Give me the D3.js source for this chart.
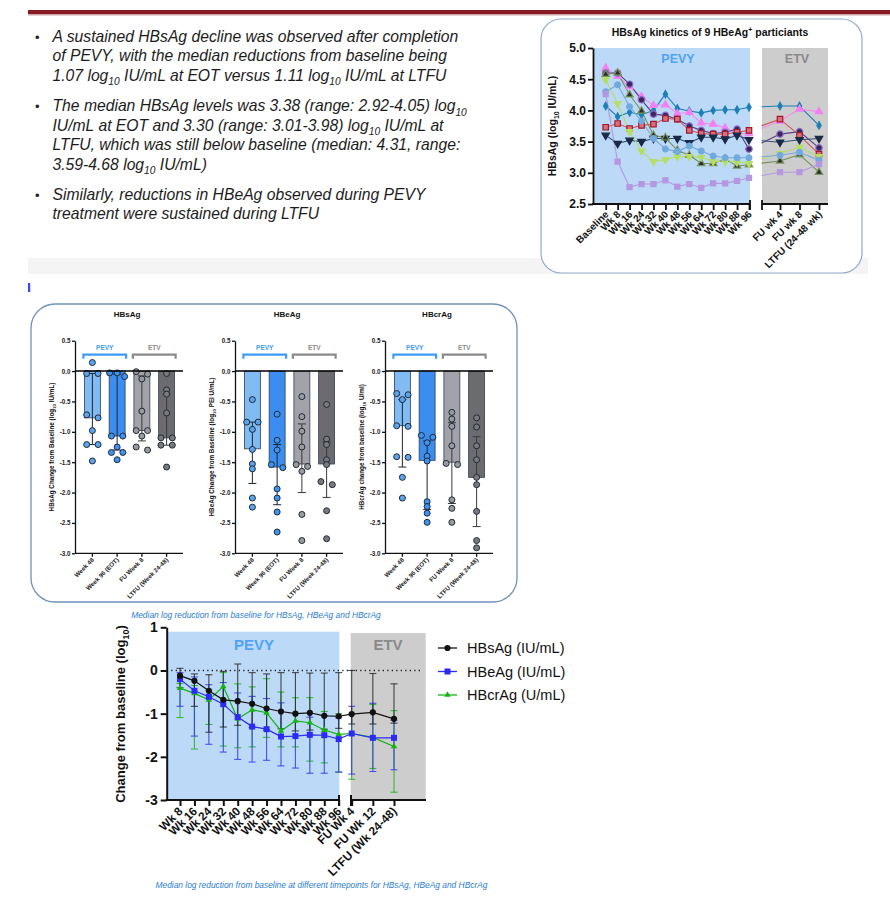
<!DOCTYPE html>
<html><head><meta charset="utf-8">
<script src="https://cdn.jsdelivr.net/npm/d3@7"></script>
<style>
html,body{margin:0;padding:0;background:#fff;}
svg{display:block;font-family:"Liberation Sans",Arial,sans-serif;}
</style></head><body>
<svg id="c" width="890" height="897"></svg>
<script>
// ================= DATA =================
const bullets = [
  ["A sustained HBsAg decline was observed after completion",
   "of PEVY, with the median reductions from baseline being",
   "1.07 log_{10} IU/mL at EOT versus 1.11 log_{10} IU/mL at LTFU"],
  ["The median HBsAg levels was 3.38 (range: 2.92-4.05) log_{10}",
   "IU/mL at EOT and 3.30 (range: 3.01-3.98) log_{10} IU/mL at",
   "LTFU, which was still below baseline (median: 4.31, range:",
   "3.59-4.68 log_{10} IU/mL)"],
  ["Similarly, reductions in HBeAg observed during PEVY",
   "treatment were sustained during LTFU"]
];

// HBsAg kinetics of 9 patients
const kinPevyLabels = ["Baseline","Wk 8","Wk 16","Wk 24","Wk 32","Wk 40","Wk 48","Wk 56","Wk 64","Wk 72","Wk 80","Wk 88","Wk 96"];
const kinEtvLabels = ["FU wk 4","FU wk 8","LTFU (24-48 wk)"];
const kinYTicks = [2.5,3.0,3.5,4.0,4.5,5.0];
const pt1 = [4.07,3.90,3.97,3.93,4.00,4.26,4.03,3.99,3.96,4.00,4.01,4.01,4.05, 4.07,4.07,3.76];
const pt2 = [4.68,4.55,4.38,4.22,4.08,4.09,3.95,3.97,3.80,3.78,3.72,3.63,3.63, 3.83,4.02,3.98];
const pt3 = [4.60,4.60,4.42,4.17,3.94,3.92,3.86,3.75,3.68,3.63,3.65,3.70,3.38, 3.62,3.66,3.40];
const pt4 = [3.73,3.79,3.71,3.76,3.78,3.87,3.86,3.68,3.63,3.62,3.62,3.65,3.68, 3.86,3.60,3.30];
const pt5 = [3.60,3.47,3.52,3.50,3.55,3.55,3.55,3.48,3.57,3.57,3.54,3.60,3.53, 3.49,3.53,3.55];
const pt6 = [4.58,4.60,4.25,3.99,3.60,3.56,3.36,3.28,3.15,3.15,3.22,3.11,3.13, 3.19,3.29,3.01];
const pt7 = [4.49,4.11,3.66,3.35,3.18,3.21,3.26,3.26,3.25,3.18,3.18,3.17,3.15, 3.31,3.41,3.26];
const pt8 = [4.30,4.41,4.06,3.83,3.55,3.38,3.34,3.43,3.35,3.27,3.24,3.24,3.24, 3.28,3.33,3.20];
const pt9 = [4.26,3.18,2.77,2.82,2.82,2.88,2.78,2.82,2.76,2.83,2.83,2.87,2.92, 3.01,3.01,3.14];
const kinSeries = [pt1,pt2,pt3,pt4,pt5,pt6,pt7,pt8,pt9];

// Bar charts (change from baseline)
const barCategories = ["Week 48","Week 96 (EOT)","FU Week 8","LTFU (Week 24-48)"];
const barYTicks = [0.5,0.0,-0.5,-1.0,-1.5,-2.0,-2.5,-3.0];
const hbsagMedian = [-0.77,-1.07,-0.98,-1.10];
const hbsagErrHigh = [-0.04,-0.05,-0.08,-0.38];
const hbsagErrLow = [-1.21,-1.30,-1.15,-1.22];
const hbsagPoints = [
  [0.14,-0.04,-0.04,-0.72,-0.77,-0.98,-1.21,-1.21,-1.48],
  [-0.03,-0.03,-0.09,-1.07,-1.07,-1.25,-1.34,-1.34,-1.46],
  [-0.01,-0.05,-0.13,-0.66,-0.98,-0.98,-1.07,-1.25,-1.30],
  [-0.04,-0.31,-0.38,-0.69,-1.10,-1.10,-1.22,-1.22,-1.58]];
const hbeagMedian = [-1.28,-1.58,-1.53,-1.53];
const hbeagErrHigh = [-0.84,-1.21,-0.87,-1.17];
const hbeagErrLow = [-1.85,-2.20,-2.00,-2.08];
const hbeagPoints = [
  [-0.47,-0.84,-0.84,-0.96,-1.29,-1.53,-1.61,-2.09,-2.24],
  [-0.71,-1.14,-1.30,-1.54,-1.59,-1.94,-2.09,-2.32,-2.65],
  [-0.42,-0.75,-0.99,-1.25,-1.54,-1.57,-1.65,-2.36,-2.79],
  [-0.55,-1.12,-1.21,-1.46,-1.54,-1.82,-1.87,-2.30,-2.76]];
const hbcragMedian = [-0.90,-1.47,-1.50,-1.75];
const hbcragErrHigh = [-0.47,-1.15,-0.85,-1.08];
const hbcragErrLow = [-1.58,-2.28,-2.18,-2.56];
const hbcragPoints = [
  [-0.37,-0.39,-0.47,-0.90,-0.91,-1.41,-1.42,-1.75,-2.09],
  [-1.06,-1.09,-1.18,-1.40,-1.48,-2.15,-2.23,-2.34,-2.49],
  [-0.68,-0.79,-0.91,-1.23,-1.52,-1.54,-2.12,-2.26,-2.49],
  [-0.77,-0.92,-1.23,-1.46,-1.75,-1.87,-2.31,-2.79,-2.91]];

// Median change over time
const tpPevyLabels = ["Wk 8","Wk 16","Wk 24","Wk 32","Wk 40","Wk 48","Wk 56","Wk 64","Wk 72","Wk 80","Wk 88","Wk 96"];
const tpEtvLabels = ["FU Wk 4","FU Wk 12","LTFU (Wk 24-48)"];
const tpYTicks = [1,0,-1,-2,-3];
const hbsMed  = [-0.12,-0.24,-0.47,-0.68,-0.71,-0.77,-0.88,-0.95,-1.00,-0.98,-1.05,-1.06, -1.01,-0.97,-1.12];
const hbsHigh = [0.05,-0.08,-0.10,-0.02,0.15,-0.05,-0.08,-0.05,-0.05,-0.06,-0.06,-0.05, 0.00,-0.07,-0.31];
const hbsLow  = [-0.40,-0.83,-1.43,-1.31,-1.27,-1.32,-1.38,-1.35,-1.40,-1.38,-1.36,-1.34, -1.24,-1.24,-1.22];
const hbeMed  = [-0.20,-0.47,-0.61,-0.78,-1.08,-1.30,-1.36,-1.53,-1.52,-1.49,-1.50,-1.59, -1.46,-1.56,-1.56];
const hbeHigh = [-0.05,-0.15,-0.33,-0.28,-0.52,-0.60,-0.65,-0.75,-1.00,-1.08,-1.05,-1.10, -0.83,-0.76,-1.15];
const hbeLow  = [-0.83,-1.52,-1.71,-1.89,-2.06,-2.12,-2.08,-2.21,-2.26,-2.38,-2.38,-2.35, -2.40,-2.34,-2.30];
const hbcMed  = [-0.41,-0.53,-0.68,-0.37,-1.12,-0.91,-0.98,-1.40,-1.17,-1.21,-1.38,-1.48, -1.46,-1.55,-1.76];
const hbcHigh = [-0.30,-0.35,-0.45,-0.05,-0.31,-0.38,-0.19,-0.50,-0.63,-0.63,-0.95,-1.00, -1.00,-0.79,-0.93];
const hbcLow  = [-1.09,-1.82,-1.25,-1.75,-1.79,-1.77,-1.55,-1.77,-1.77,-2.10,-2.14,-2.36, -2.52,-2.27,-2.82];
const legendNames = ["HBsAg (IU/mL)","HBeAg (IU/mL)","HBcrAg (U/mL)"];

const captionBars = "Median log reduction from baseline for HBsAg, HBeAg and HBcrAg";
const captionLines = "Median log reduction from baseline at different timepoints for HBsAg, HBeAg and HBcrAg";

// ================= DRAWING =================
const svg = d3.select("#c");
const BLUE_REG = "#bcdaf7", GREY_REG = "#cdcdcd", PEVY_C = "#4ea3f5", ETV_C = "#8a8a8a";

function richText(sel, str, x, y, size, opts={}) {
  const t = sel.append("text").attr("x", x).attr("y", y).attr("font-size", size);
  Object.entries(opts).forEach(([k,v]) => t.attr(k, v));
  const parts = str.split(/_\{([^}]*)\}/);
  let shifted = false;
  const sh = size * 0.3;
  parts.forEach((p, i) => {
    if (p === "") return;
    const ts = t.append("tspan").text(p);
    if (i % 2 === 1) { ts.attr("font-size", size * 0.65).attr("dy", sh); shifted = true; }
    else if (shifted) { ts.attr("dy", -sh); shifted = false; }
  });
  return t;
}

// ---------- header decorations ----------
svg.append("rect").attr("x",28).attr("y",10).attr("width",862).attr("height",4).attr("fill","#8a1a22");
svg.append("rect").attr("x",28).attr("y",14).attr("width",862).attr("height",1.5).attr("fill","#cfa5a8");
svg.append("rect").attr("x",28).attr("y",258).attr("width",840).attr("height",16).attr("fill","#f4f4f4");
svg.append("rect").attr("x",28).attr("y",283).attr("width",2.2).attr("height",9).attr("fill","#3b48f0");

// ---------- bullets ----------
const bulletStarts = [41.5, 111, 199.5];
const lineGap = 19.5;
bullets.forEach((lines, bi) => {
  svg.append("text").attr("x", 35).attr("y", bulletStarts[bi]).attr("font-size", 13).attr("fill","#222").text("•");
  lines.forEach((ln, li) => {
    richText(svg, ln, 52.5, bulletStarts[bi] + li * lineGap, 15.7, {"font-style":"italic","fill":"#1c1c1c"});
  });
});

// ---------- kinetics panel ----------
(function(){
  const g = svg.append("g");
  g.append("rect").attr("x",541).attr("y",19).attr("width",321).attr("height",254).attr("rx",20)
    .attr("fill","#fff").attr("stroke","#8fa9c9").attr("stroke-width",1.2);
  const tt = g.append("text").attr("x",710).attr("y",36).attr("text-anchor","middle")
    .attr("font-size",10.5).attr("font-weight","bold").attr("fill","#111");
  tt.append("tspan").text("HBsAg kinetics of 9 HBeAg");
  tt.append("tspan").attr("dy",-4).attr("font-size",7).text("+");
  tt.append("tspan").attr("dy",4).text(" particiants");

  const ky = d3.scaleLinear().domain([2.5,5]).range([204,48]);
  const kxP = d3.scalePoint().domain(kinPevyLabels).range([605.7,749]);
  const kxE = d3.scalePoint().domain(kinEtvLabels).range([780,819]);
  const labels = kinPevyLabels.concat(kinEtvLabels);
  const kx = l => kinPevyLabels.includes(l) ? kxP(l) : kxE(l);

  g.append("rect").attr("x",593).attr("y",ky(5)).attr("width",157).attr("height",ky(2.5)-ky(5)).attr("fill",BLUE_REG);
  g.append("rect").attr("x",762).attr("y",ky(5)).attr("width",66).attr("height",ky(2.5)-ky(5)).attr("fill",GREY_REG);
  g.append("text").attr("x",678).attr("y",63).attr("text-anchor","middle").attr("font-size",12.5).attr("font-weight","bold").attr("fill",PEVY_C).text("PEVY");
  g.append("text").attr("x",797).attr("y",63).attr("text-anchor","middle").attr("font-size",12.5).attr("font-weight","bold").attr("fill",ETV_C).text("ETV");

  const styles = [
    {line:"#1f7fb4", fill:"#1f7fb4", stroke:"#1f7fb4", sym:d3.symbolDiamond, size:16, rot:0},
    {line:"#f28cf0", fill:"#f47ff2", stroke:"#f47ff2", sym:d3.symbolTriangle, size:22, rot:0},
    {line:"#5c3d86", fill:"#3f2560", stroke:"#8c6cc0", sym:d3.symbolCircle, size:32, rot:0},
    {line:"#d2555f", fill:"#d8707c", stroke:"#a3192a", sym:d3.symbolSquare, size:30, rot:0},
    {line:"#2f5278", fill:"#182a45", stroke:"#182a45", sym:d3.symbolTriangle, size:24, rot:180},
    {line:"#74935a", fill:"#2e2e2e", stroke:"#7e9560", sym:d3.symbolTriangle, size:24, rot:0},
    {line:"#b3dc6a", fill:"#b5df62", stroke:"#b5df62", sym:d3.symbolTriangle, size:20, rot:180},
    {line:"#72aadd", fill:"#72aadd", stroke:"#72aadd", sym:d3.symbolCircle, size:26, rot:0},
    {line:"#b597e0", fill:"#b597e0", stroke:"#b597e0", sym:d3.symbolSquare, size:26, rot:0}
  ];
  const lineGen = d3.line().x((d,i)=>kx(labels[i])).y(d=>ky(d));
  kinSeries.forEach((s, si) => {
    g.append("path").attr("d", lineGen(s)).attr("fill","none").attr("stroke", styles[si].line).attr("stroke-width",1.1);
  });
  g.append("rect").attr("x",750.5).attr("y",ky(5)-1).attr("width",11).attr("height",ky(2.5)-ky(5)+1).attr("fill","#fff");
  kinSeries.forEach((s, si) => {
    const st = styles[si];
    g.selectAll(null).data(s).join("path")
      .attr("transform",(d,i)=>`translate(${kx(labels[i])},${ky(d)}) rotate(${st.rot})`)
      .attr("d", d3.symbol(st.sym, st.size)())
      .attr("fill", st.fill).attr("stroke", st.stroke).attr("stroke-width",1.2);
  });

  const ya = g.append("g").attr("transform","translate(593,0)")
    .call(d3.axisLeft(ky).tickValues(kinYTicks).tickFormat(d=>d.toFixed(1)).tickSize(5).tickSizeOuter(0));
  ya.selectAll("path,line").attr("stroke","#111").attr("stroke-width",1.8);
  ya.selectAll("text").attr("font-size",12).attr("font-weight","bold").attr("fill","#111").attr("font-family","Liberation Sans, Arial").attr("x",-7);
  const yt = g.append("text").attr("transform","translate(555.5,126) rotate(-90)").attr("text-anchor","middle")
    .attr("font-size",10.5).attr("font-weight","bold").attr("fill","#111");
  yt.append("tspan").text("HBsAg (log");
  yt.append("tspan").attr("dy",3).attr("font-size",7).text("10");
  yt.append("tspan").attr("dy",-3).text(" IU/mL)");

  function xAxisSeg(scale, x0, x1, capStart, capEnd) {
    const ax = g.append("g").attr("transform",`translate(0,${ky(2.5)})`)
      .call(d3.axisBottom(scale).tickSize(6).tickSizeOuter(0));
    ax.select(".domain").remove();
    ax.append("line").attr("x1",x0).attr("x2",x1).attr("y1",0).attr("y2",0);
    if (capStart) ax.append("line").attr("x1",x0).attr("x2",x0).attr("y1",-4).attr("y2",6);
    if (capEnd) ax.append("line").attr("x1",x1).attr("x2",x1).attr("y1",-4).attr("y2",6);
    ax.selectAll("line").attr("stroke","#111").attr("stroke-width",1.8);
    ax.selectAll(".tick text").attr("font-size",10).attr("font-weight","bold").attr("fill","#111")
      .attr("font-family","Liberation Sans, Arial")
      .attr("text-anchor","end").attr("dx",0).attr("dy",0).attr("y",0)
      .attr("transform","translate(3,11) rotate(-45)");
  }
  xAxisSeg(kxP, 592, 750, false, true);
  xAxisSeg(kxE, 762, 828, true, false);
})();

// ---------- bar charts panel ----------
svg.append("rect").attr("x",31).attr("y",304).attr("width",486).attr("height",298).attr("rx",24)
  .attr("fill","#fff").attr("stroke","#6f91ba").attr("stroke-width",1.3);

const barFills = ["#80bbf3","#3b8ef0","#a2a2aa","#6c6c70"];
const ptFills = ["#5aa5ee","#3f93f0","#9a9a9e","#7a7a7e"];
const barY = d3.scaleLinear().domain([-3,0.5]).range([553.3,340.7]);

function jitter(vals) {
  const idx = vals.map((v,i)=>i).sort((a,b)=>vals[b]-vals[a]);
  const off = new Array(vals.length).fill(0);
  let cluster = [idx[0]];
  const flush = () => {
    const n = cluster.length, step = n === 2 ? 11.4 : 7.5;
    cluster.forEach((ci,k) => off[ci] = (k - (n-1)/2) * step);
  };
  for (let k = 1; k < idx.length; k++) {
    if (vals[idx[k-1]] - vals[idx[k]] <= 0.061) cluster.push(idx[k]);
    else { flush(); cluster = [idx[k]]; }
  }
  flush();
  return off;
}

function barChart(axisX, title, yTitleParts, medians, errHigh, errLow, points) {
  const g = svg.append("g");
  const x = d3.scaleBand().domain(barCategories).range([axisX, axisX+109]).paddingInner(0.355).paddingOuter(0.38);
  const xEnd = axisX + 108;
  g.append("text").attr("x", axisX+52).attr("y",317).attr("text-anchor","middle")
    .attr("font-size",8).attr("font-weight","bold").attr("fill","#111").text(title);
  g.selectAll(null).data(medians).join("rect")
    .attr("x",(d,i)=>x(barCategories[i])).attr("width",x.bandwidth())
    .attr("y",barY(0)).attr("height",d=>barY(d)-barY(0))
    .attr("fill",(d,i)=>barFills[i]).attr("stroke","#33404f").attr("stroke-width",0.8);
  medians.forEach((m,i)=>{
    const cx = x(barCategories[i]) + x.bandwidth()/2;
    const col = i < 2 ? "#1d2633" : "#3a3a3a";
    g.append("line").attr("x1",cx).attr("x2",cx).attr("y1",barY(errHigh[i])).attr("y2",barY(errLow[i])).attr("stroke",col).attr("stroke-width",1);
    [errHigh[i], errLow[i]].forEach(v=>{
      g.append("line").attr("x1",cx-4).attr("x2",cx+4).attr("y1",barY(v)).attr("y2",barY(v)).attr("stroke",col).attr("stroke-width",1);
    });
  });
  points.forEach((vals,i)=>{
    const cx = x(barCategories[i]) + x.bandwidth()/2;
    const off = jitter(vals);
    g.selectAll(null).data(vals).join("circle")
      .attr("cx",(d,k)=>cx+off[k]).attr("cy",d=>barY(d)).attr("r",3)
      .attr("fill",ptFills[i]).attr("stroke","#1f2a36").attr("stroke-width",1);
  });
  g.append("line").attr("x1",axisX).attr("x2",xEnd).attr("y1",barY(0)).attr("y2",barY(0)).attr("stroke","#000").attr("stroke-width",1.6);
  const ya = g.append("g").attr("transform",`translate(${axisX},0)`)
    .call(d3.axisLeft(barY).tickValues(barYTicks).tickFormat(d=>d.toFixed(1)).tickSize(3).tickSizeOuter(0));
  ya.selectAll("path,line").attr("stroke","#111").attr("stroke-width",1.3);
  ya.selectAll("text").attr("font-size",6.3).attr("font-weight","bold").attr("fill","#222").attr("x",-4.5).attr("font-family","Liberation Sans, Arial");
  const xa = g.append("g").attr("transform",`translate(0,${barY(-3)})`)
    .call(d3.axisBottom(x).tickSize(3.5).tickSizeOuter(0));
  xa.select(".domain").remove();
  xa.append("line").attr("x1",axisX).attr("x2",xEnd).attr("y1",0).attr("y2",0);
  xa.selectAll("line").attr("stroke","#111").attr("stroke-width",1.3);
  xa.selectAll(".tick text").attr("font-size",6.2).attr("font-weight","bold").attr("fill","#222")
    .attr("font-family","Liberation Sans, Arial")
    .attr("text-anchor","end").attr("dy",0).attr("y",0).attr("transform","translate(2,7) rotate(-45)");
  const by = barY(0.5) + 14;
  [[0,1,"PEVY","#3d9bf5"],[2,3,"ETV","#8a8a8a"]].forEach(([a,b,lab,col])=>{
    const x0 = x(barCategories[a]) - 1, x1 = x(barCategories[b]) + x.bandwidth() + 1;
    g.append("path").attr("d",`M${x0},${by+4}V${by}H${x1}V${by+4}`).attr("fill","none").attr("stroke",col).attr("stroke-width",2.2);
    g.append("text").attr("x",(x0+x1)/2).attr("y",by-5).attr("text-anchor","middle").attr("font-size",6.5)
      .attr("font-weight","bold").attr("fill",col).text(lab);
  });
  const yt = g.append("text").attr("transform",`translate(${axisX-21},${barY(-1.25)}) rotate(-90)`).attr("text-anchor","middle")
    .attr("font-size",6.3).attr("font-weight","bold").attr("fill","#111");
  yt.append("tspan").text(yTitleParts[0]);
  yt.append("tspan").attr("dy",1.8).attr("font-size",4.4).text("10");
  yt.append("tspan").attr("dy",-1.8).text(yTitleParts[1]);
}
barChart(75, "HBsAg", ["HBsAg Change from Baseline (log"," IU/mL)"], hbsagMedian, hbsagErrHigh, hbsagErrLow, hbsagPoints);
barChart(235, "HBeAg", ["HBeAg Change from Baseline (log"," PEI U/mL)"], hbeagMedian, hbeagErrHigh, hbeagErrLow, hbeagPoints);
barChart(385, "HBcrAg", ["HBcrAg change from baseline (log"," U/ml)"], hbcragMedian, hbcragErrHigh, hbcragErrLow, hbcragPoints);

svg.append("text").attr("x",256).attr("y",618).attr("text-anchor","middle").attr("font-size",8.4)
  .attr("font-style","italic").attr("fill","#2a7dd2").text(captionBars);

// ---------- median change line chart ----------
(function(){
  const g = svg.append("g");
  const y = d3.scaleLinear().domain([-3,1]).range([800,627.3]);
  const xP = d3.scalePoint().domain(tpPevyLabels).range([180,338.7]);
  const xE = d3.scalePoint().domain(tpEtvLabels).range([351.7,394]);
  const labels = tpPevyLabels.concat(tpEtvLabels);
  const x = l => tpPevyLabels.includes(l) ? xP(l) : xE(l);

  g.append("rect").attr("x",166.7).attr("y",631.7).attr("width",172.6).attr("height",800-631.7).attr("fill",BLUE_REG);
  g.append("rect").attr("x",350.7).attr("y",633).attr("width",75).attr("height",800-633).attr("fill",GREY_REG);
  g.append("text").attr("x",254).attr("y",650).attr("text-anchor","middle").attr("font-size",15).attr("font-weight","bold").attr("fill",PEVY_C).text("PEVY");
  g.append("text").attr("x",388).attr("y",650).attr("text-anchor","middle").attr("font-size",15).attr("font-weight","bold").attr("fill",ETV_C).text("ETV");
  g.append("line").attr("x1",166.7).attr("x2",423).attr("y1",y(0)).attr("y2",y(0)).attr("stroke","#222").attr("stroke-width",1.3).attr("stroke-dasharray","1.3,3.2");

  const series = [
    {med:hbcMed, hi:hbcHigh, lo:hbcLow, col:"#16b316", ecol:"#1fb41f", sym:d3.symbolTriangle, size:18},
    {med:hbeMed, hi:hbeHigh, lo:hbeLow, col:"#2b2bf5", ecol:"#3838f0", sym:d3.symbolSquare, size:36},
    {med:hbsMed, hi:hbsHigh, lo:hbsLow, col:"#111", ecol:"#2a2a2a", sym:d3.symbolCircle, size:30}
  ];
  series.forEach(s=>{
    s.med.forEach((m,i)=>{
      const cx = x(labels[i]);
      g.append("line").attr("x1",cx).attr("x2",cx).attr("y1",y(s.hi[i])).attr("y2",y(s.lo[i])).attr("stroke",s.ecol).attr("stroke-width",1.1).attr("opacity",0.85);
      [s.hi[i], s.lo[i]].forEach(v=>g.append("line").attr("x1",cx-3.5).attr("x2",cx+3.5).attr("y1",y(v)).attr("y2",y(v)).attr("stroke",s.ecol).attr("stroke-width",1.1).attr("opacity",0.85));
    });
  });
  const lg = d3.line().x((d,i)=>x(labels[i])).y(d=>y(d));
  series.forEach(s=>{
    g.append("path").attr("d",lg(s.med)).attr("fill","none").attr("stroke",s.col).attr("stroke-width",1.2);
    g.selectAll(null).data(s.med).join("path")
      .attr("transform",(d,i)=>`translate(${x(labels[i])},${y(d)})`)
      .attr("d",d3.symbol(s.sym,s.size)()).attr("fill",s.col);
  });

  const ya = g.append("g").attr("transform","translate(166.7,0)")
    .call(d3.axisLeft(y).tickValues(tpYTicks).tickFormat(d=>String(d)).tickSize(6).tickSizeOuter(0));
  ya.selectAll("path,line").attr("stroke","#111").attr("stroke-width",2);
  ya.selectAll("text").attr("font-size",14).attr("font-weight","bold").attr("fill","#111").attr("x",-9).attr("font-family","Liberation Sans, Arial");
  const yt = g.append("text").attr("transform","translate(125,714) rotate(-90)").attr("text-anchor","middle")
    .attr("font-size",13).attr("font-weight","bold").attr("fill","#111");
  yt.append("tspan").text("Change from baseline (log");
  yt.append("tspan").attr("dy",3.5).attr("font-size",9).text("10");
  yt.append("tspan").attr("dy",-3.5).text(")");

  function xSeg(scale, x0, x1, capStart, capEnd){
    const ax = g.append("g").attr("transform",`translate(0,800)`)
      .call(d3.axisBottom(scale).tickSize(6).tickSizeOuter(0));
    ax.select(".domain").remove();
    ax.append("line").attr("x1",x0).attr("x2",x1).attr("y1",0).attr("y2",0);
    if (capStart) ax.append("line").attr("x1",x0).attr("x2",x0).attr("y1",-5).attr("y2",6);
    if (capEnd) ax.append("line").attr("x1",x1).attr("x2",x1).attr("y1",-5).attr("y2",6);
    ax.selectAll("line").attr("stroke","#111").attr("stroke-width",2);
    ax.selectAll(".tick text").attr("font-size",11.8).attr("font-weight","bold").attr("fill","#111")
      .attr("font-family","Liberation Sans, Arial")
      .attr("text-anchor","end").attr("dy",0).attr("y",0).attr("transform","translate(3,12) rotate(-45)");
  }
  xSeg(xP, 165.7, 339, false, true);
  xSeg(xE, 351, 426, true, false);

  const ly = [648, 671.5, 695];
  const legSeries = [series[2], series[1], series[0]];
  legendNames.forEach((nm,i)=>{
    const s = legSeries[i];
    g.append("line").attr("x1",438).attr("x2",457).attr("y1",ly[i]).attr("y2",ly[i]).attr("stroke",s.col).attr("stroke-width",1.3);
    g.append("path").attr("transform",`translate(447.5,${ly[i]})`).attr("d",d3.symbol(s.sym,s.size)()).attr("fill",s.col);
    g.append("text").attr("x",467).attr("y",ly[i]+5.2).attr("font-size",14.5).attr("fill","#111").text(nm);
  });
})();

svg.append("text").attr("x",321.5).attr("y",888).attr("text-anchor","middle").attr("font-size",8.4)
  .attr("font-style","italic").attr("fill","#2a7dd2").text(captionLines);
</script>
</body></html>
